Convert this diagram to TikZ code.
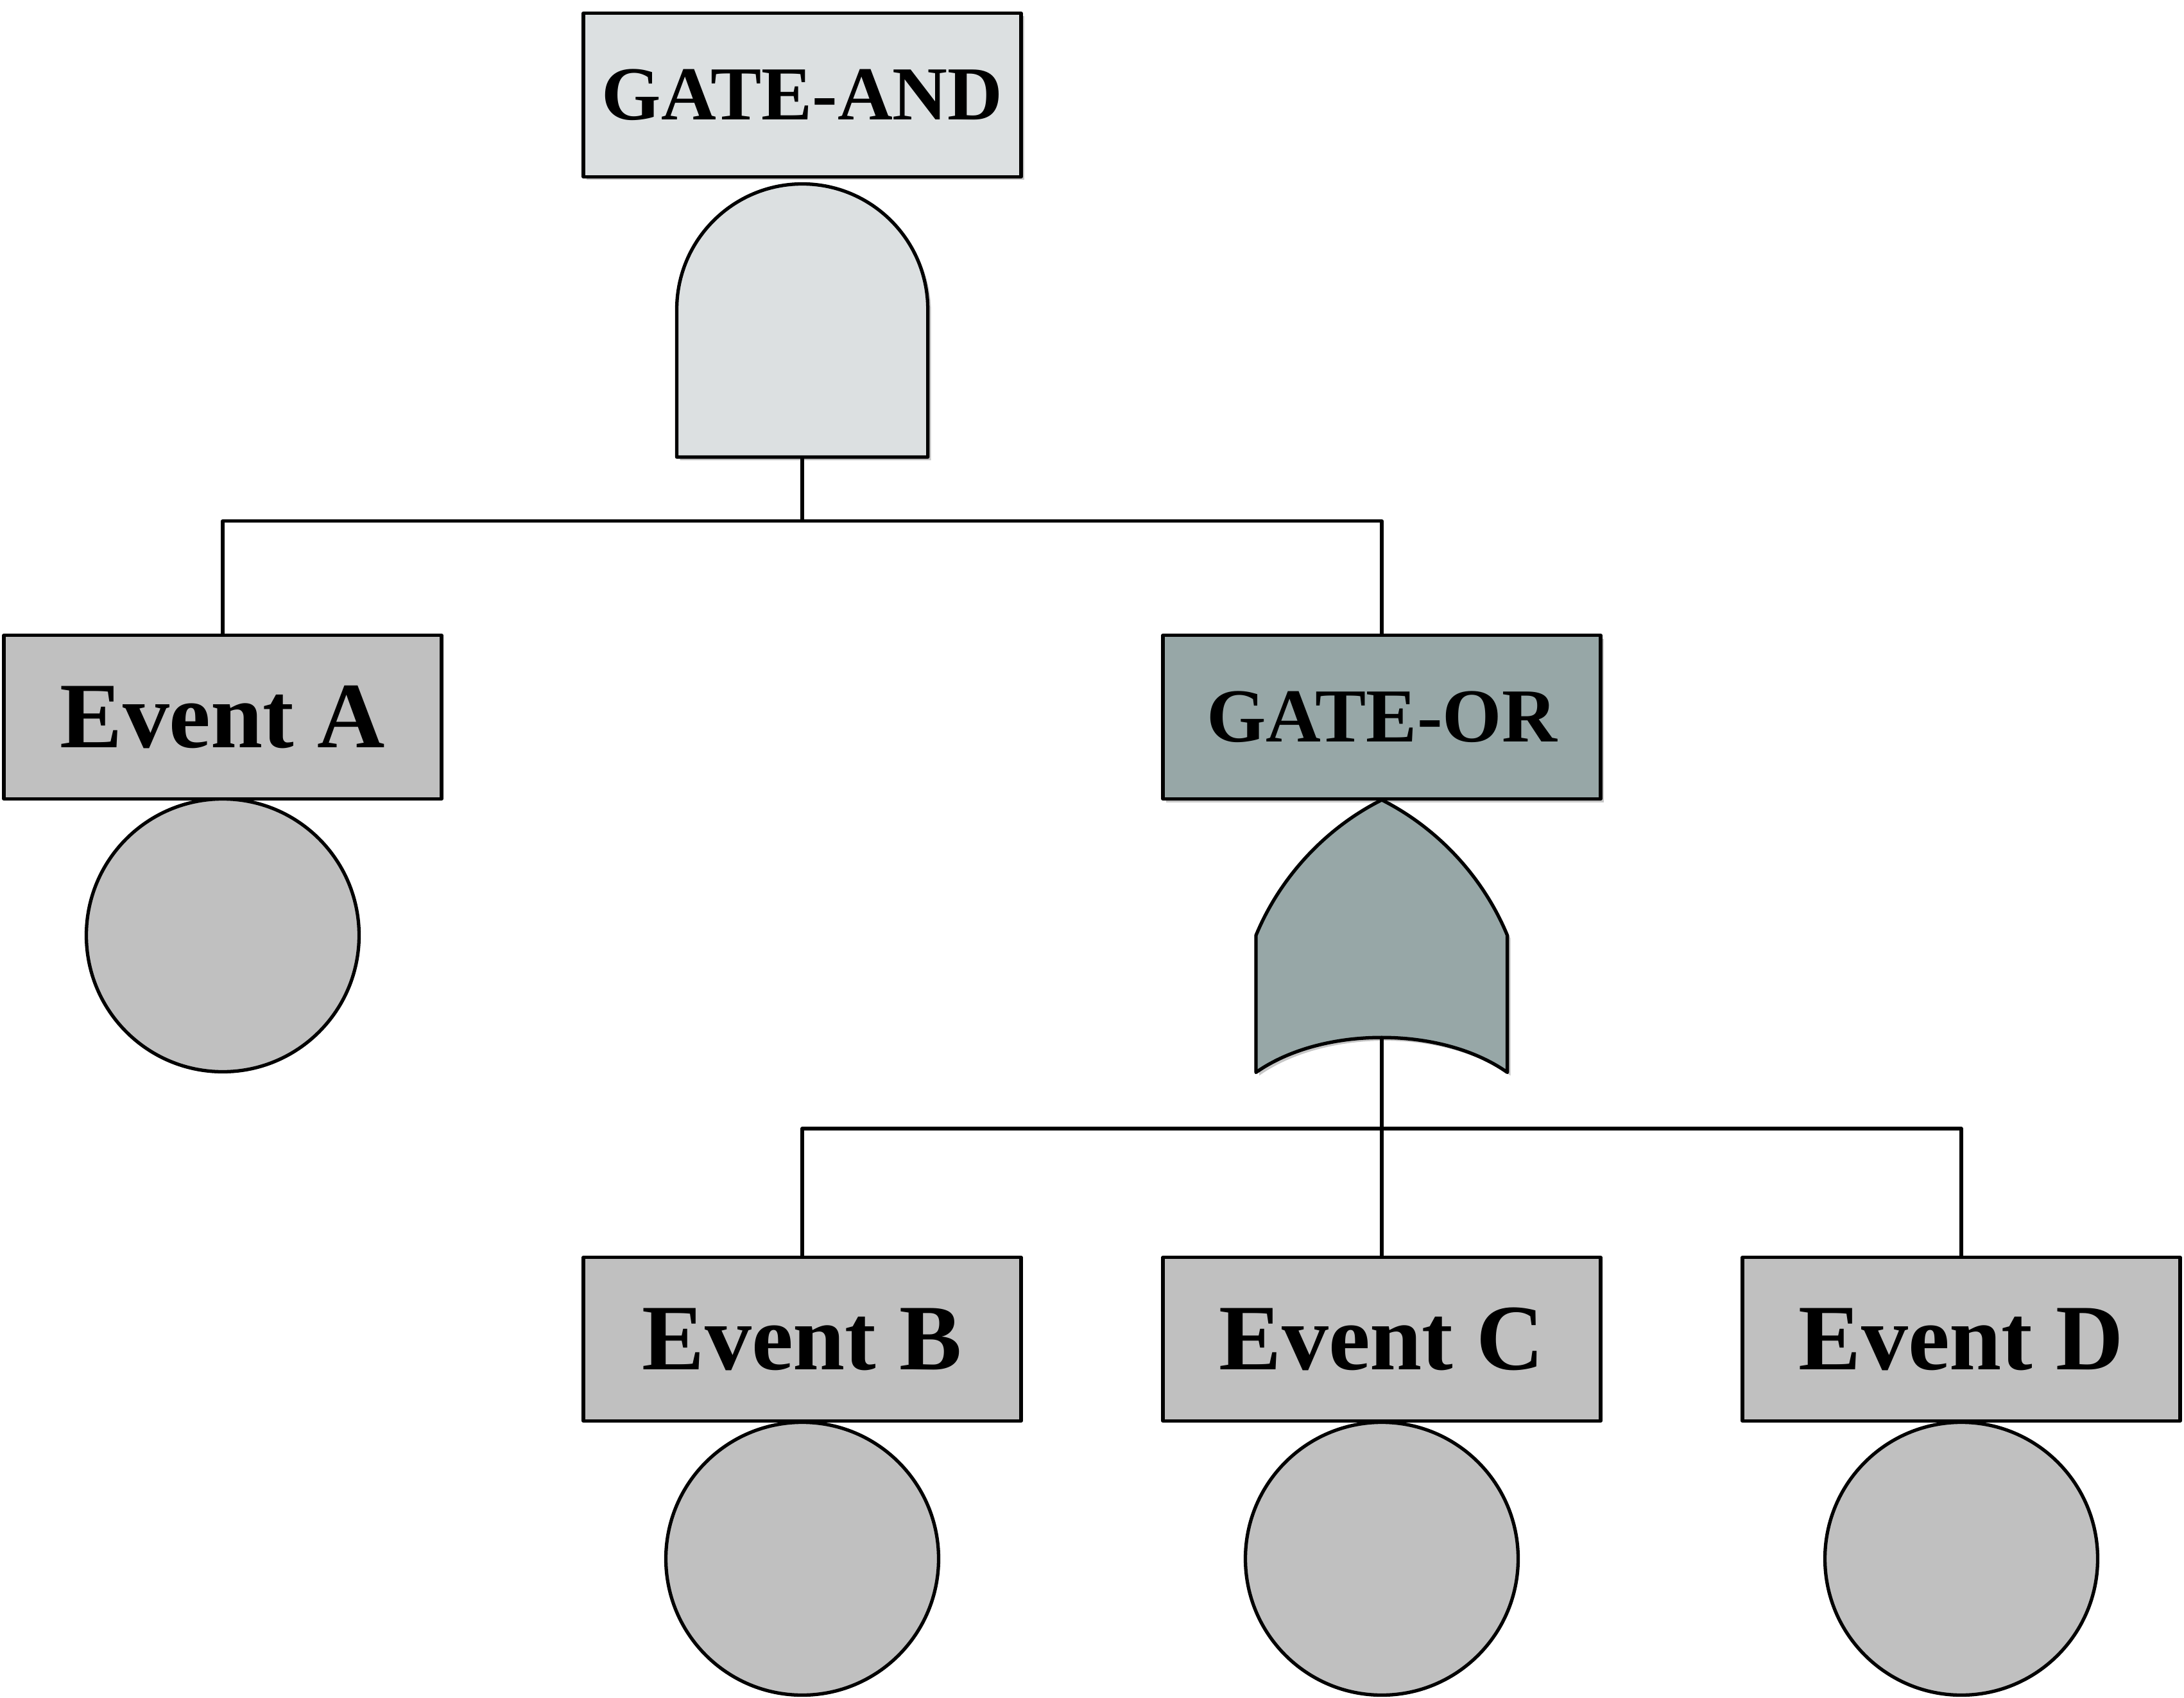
\documentclass[tikz,border=0pt]{standalone}
\usepackage{fontspec}
\setmainfont{Liberation Serif}
\usepackage{tikz}
\usetikzlibrary{shadows}
\definecolor{andfill}{HTML}{DCE0E1}
\definecolor{orfill}{HTML}{97A7A7}
\definecolor{evfill}{HTML}{C0C0C0}
\tikzset{
  wire/.style   ={line width=1.5pt, line join=round},
  soft/.style   ={drop shadow={shadow xshift=0.5mm, shadow yshift=-0.5mm,
                  opacity=0.22, fill=black}},
  evbox/.style  ={draw, rectangle, minimum width=6.82cm, minimum height=2.55cm,
                  inner sep=0pt, outer sep=0pt, fill=evfill, wire,
                  font=\bfseries\fontsize{41.5}{42}\selectfont},
  gatebox/.style={evbox, soft, font=\bfseries\fontsize{33.8}{34}\selectfont},
  basicev/.style={draw, circle, minimum size=4.25cm, inner sep=0pt,
                  outer sep=0pt, fill=evfill, wire},
}
\begin{document}
\begin{tikzpicture}
  \useasboundingbox (0,0) rectangle (34.03,-26.45);
  % ---- top: the AND gate and its box
  \node[gatebox, fill=andfill] (andbox) at (12.50,-1.48) {GATE-AND};
  \draw[wire, fill=andfill, soft] (10.545,-7.12) -- (10.545,-4.82)
    arc[start angle=180, end angle=0, x radius=1.956, y radius=1.955]
    -- (14.457,-7.12) -- cycle;
  \coordinate (andout) at (12.50,-7.12);
  \coordinate (andbus) at (12.50,-8.115);
  % ---- middle: Event A and the OR gate
  \node[basicev] (circA) at (3.47,-14.57) {};
  \node[evbox] (evA) at (3.47,-11.17) {Event A};
  \node[gatebox, fill=orfill] (orbox) at (21.53,-11.17) {GATE-OR};
  \draw[wire, fill=orfill, soft] (19.57,-16.705) -- (19.57,-14.57)
    .. controls (19.944,-13.664) and (20.654,-12.899) .. (21.53,-12.46)
    .. controls (22.402,-12.899) and (23.112,-13.664) .. (23.486,-14.57)
    -- (23.486,-16.705)
    .. controls (22.46,-15.98) and (20.60,-15.98) .. cycle;
  \coordinate (orout) at (21.53,-16.16);
  \coordinate (orbus) at (21.53,-17.58);
  \draw[wire] (andout) -- (andbus);
  \draw[wire] (evA.north) |- (andbus) -| (orbox.north);
  % ---- bottom: Events B, C, D
  \foreach \n/\x in {B/12.50,C/21.53,D/30.56}{
    \node[basicev] (circ\n) at (\x,-24.28) {};
    \node[evbox] (ev\n) at (\x,-20.86) {Event \n};
  }
  \draw[wire] (orout) -- (evC.north);
  \draw[wire] (evB.north) |- (orbus) -| (evD.north);
\end{tikzpicture}
\end{document}
